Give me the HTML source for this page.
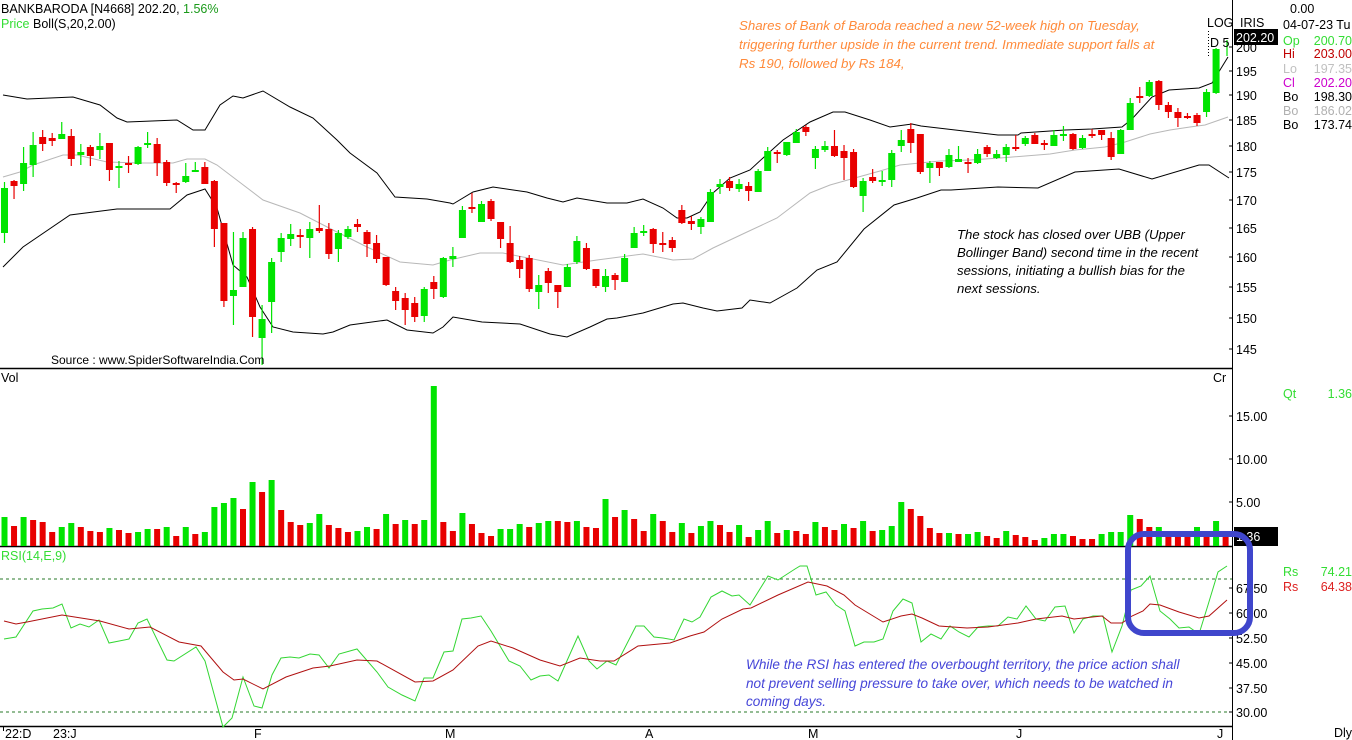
<!DOCTYPE html>
<html><head><meta charset="utf-8"><style>
html,body{margin:0;padding:0;background:#fff;}
body{width:1352px;height:740px;overflow:hidden;position:relative;font-family:"Liberation Sans",sans-serif;}
svg{position:absolute;left:0;top:0;}
</style></head><body>
<svg id="s" width="1352" height="740" xmlns="http://www.w3.org/2000/svg" font-family="Liberation Sans, sans-serif">
<g id="g"></g>
<g font-size="12.5">
<text x="1" y="13" fill="#000">BANKBARODA [N4668]  202.20,  <tspan fill="#1a9a1a">1.56%</tspan></text>
<text x="1" y="28" fill="#33dd33">Price</text><text x="33" y="28" fill="#000">Boll(S,20,2.00)</text>
<text x="51" y="364" fill="#000" font-size="12">Source : www.SpiderSoftwareIndia.Com</text>
<text x="1" y="382" fill="#000">Vol</text>
<text x="1" y="560" fill="#33dd33">RSI(14,E,9)</text>
<text x="1213" y="382" fill="#000">Cr</text>
<text x="1207" y="27" fill="#000">LOG</text>
<text x="1240" y="27" fill="#000">IRIS</text>
<text x="1290" y="13" fill="#000">0.00</text>
<text x="1283" y="29" fill="#000">04-07-23 Tu</text>
</g>
<g font-size="12.5">
<text x="1283" y="45" fill="#33dd33">Op</text><text x="1352" y="45" text-anchor="end" fill="#33dd33">200.70</text>
<text x="1283" y="58" fill="#c00000">Hi</text><text x="1352" y="58" text-anchor="end" fill="#c00000">203.00</text>
<text x="1283" y="73" fill="#c0c0c0">Lo</text><text x="1352" y="73" text-anchor="end" fill="#c0c0c0">197.35</text>
<text x="1283" y="87" fill="#cc00cc">Cl</text><text x="1352" y="87" text-anchor="end" fill="#cc00cc">202.20</text>
<text x="1283" y="101" fill="#000">Bo</text><text x="1352" y="101" text-anchor="end" fill="#000">198.30</text>
<text x="1283" y="115" fill="#b0b0b0">Bo</text><text x="1352" y="115" text-anchor="end" fill="#b0b0b0">186.02</text>
<text x="1283" y="129" fill="#000">Bo</text><text x="1352" y="129" text-anchor="end" fill="#000">173.74</text>
<text x="1283" y="398" fill="#33dd33">Qt</text><text x="1352" y="398" text-anchor="end" fill="#33dd33">1.36</text>
<text x="1283" y="576" fill="#33dd33">Rs</text><text x="1352" y="576" text-anchor="end" fill="#33dd33">74.21</text>
<text x="1283" y="591" fill="#dd2222">Rs</text><text x="1352" y="591" text-anchor="end" fill="#dd2222">64.38</text>
<text x="1334" y="737" fill="#000">Dly</text>
</g>
<g font-size="13.3" font-style="italic" fill="#ff8a3a">
<text x="739" y="30">Shares of Bank of Baroda reached a new 52-week high on Tuesday,</text>
<text x="739" y="49">triggering further upside in the current trend. Immediate support falls at</text>
<text x="739" y="68">Rs 190, followed by Rs 184,</text>
</g>
<g font-size="13.2" font-style="italic" fill="#000">
<text x="957" y="239">The stock has closed over UBB (Upper</text>
<text x="957" y="257">Bollinger Band) second time in the recent</text>
<text x="957" y="275">sessions, initiating a bullish bias for the</text>
<text x="957" y="293">next sessions.</text>
</g>
<g font-size="13.6" font-style="italic" fill="#4646d8">
<text x="746" y="669">While the RSI has entered the overbought territory, the price action shall</text>
<text x="746" y="688">not prevent selling pressure to take over, which needs to be watched in</text>
<text x="746" y="706">coming days.</text>
</g>
</svg>
<script>
var NS="http://www.w3.org/2000/svg",g=document.getElementById("g");
function el(t,a){var e=document.createElementNS(NS,t);for(var k in a)e.setAttribute(k,a[k]);g.appendChild(e);return e;}
function txt(x,y,s,a){var e=el("text",Object.assign({x:x,y:y,"font-size":12.5,fill:"#000"},a||{}));e.textContent=s;return e;}
var GC="#00e400",RC="#e80000";
function X(i){return 4.5+9.54*i;}
el("line",{x1:0,y1:368.5,x2:1232,y2:368.5,stroke:"#000","stroke-width":1.5});
el("line",{x1:0,y1:546.5,x2:1232,y2:546.5,stroke:"#000","stroke-width":1.5});
el("line",{x1:0,y1:726.5,x2:1232,y2:726.5,stroke:"#000","stroke-width":1.5});
el("line",{x1:1232.5,y1:0,x2:1232.5,y2:740,stroke:"#000","stroke-width":1});
[579,712].forEach(function(y){el("line",{x1:0,y1:y,x2:1232,y2:y,stroke:"#2a7a2a","stroke-dasharray":"3,3"});});
function pl(pts,c,w){el("polyline",{points:pts,fill:"none",stroke:c,"stroke-width":w||1});}
pl("3,95 27,99 73,97 100,105 117,118 127,122 177,120 193,130 205,130 220,105 233,96 243,98 263,91 290,107 313,118 337,140 350,153 377,173 395,197 427,199 450,203 453,204 473,192 493,187 527,192 547,198 563,202 577,198 607,203 627,203 643,199 663,208 677,218 687,218 700,212 713,193 730,178 750,170 763,158 783,140 810,122 833,112 845,112 870,120 890,127 912,124 921,126 998,135 1018,135 1021,133 1065,130 1092,129 1122,127 1132,119 1152,97 1169,90 1199,88 1212,83 1228,57","#000");
pl("3,177 20,172 33,165 63,155 77,155 107,162 140,163 173,163 187,159 205,159 217,165 263,200 300,213 333,230 367,247 400,262 433,265 450,260 480,253 503,253 563,265 597,260 643,254 673,260 693,259 713,248 747,232 777,218 810,193 830,185 862,176 880,171 900,165 920,163 940,161 970,160 1000,158 1050,154 1075,150 1105,147 1125,142 1150,134 1170,130 1190,127 1205,125 1228,117","#b8b8b8");
pl("3,267 23,247 70,215 117,209 170,209 187,195 205,189 217,208 233,265 247,277 260,307 273,327 293,332 323,334 333,332 350,325 387,320 407,330 433,333 443,327 453,317 482,322 520,324 550,334 567,337 590,327 607,319 617,318 643,313 673,304 683,303 703,308 717,311 742,308 750,300 770,303 797,288 817,270 837,262 864,229 894,205 917,198 941,190 951,190 998,187 1038,188 1075,172 1119,169 1152,179 1199,165 1209,165 1229,178","#000");
var C="G 188 233 182 243|R 181 186 180 199|G 163 184 147 191|G 145 165 132 177|R 137 144 130 151|R 138 141 133 146|G 134 139 122 139|R 136 159 129 166|G 152 155 144 165|R 147 156 145 166|G 146 150 133 159|R 143 170 143 181|G 166 167 161 188|R 163 164 156 173|G 147 164 146 165|G 143 145 132 148|R 144 163 138 176|R 162 183 160 186|R 183 184 182 193|G 176 182 163 183|G 170 171 162 172|R 167 184 162 184|R 181 229 180 247|R 223 301 223 307|G 290 296 232 325|G 238 287 232 287|R 229 317 227 337|G 319 338 305 365|G 262 302 258 333|G 238 252 233 262|G 234 239 224 246|R 235 237 229 248|G 229 238 222 258|R 228 231 205 233|R 229 254 223 259|G 233 249 230 262|G 229 237 226 239|R 224 227 219 232|R 232 244 230 257|R 243 259 235 263|R 257 285 257 286|R 291 301 287 310|R 298 310 293 325|R 303 317 297 322|G 289 316 287 322|R 282 289 276 299|G 258 297 257 298|G 256 259 247 267|G 210 238 206 238|R 207 209 193 213|G 204 222 201 222|R 201 219 199 221|R 222 239 222 248|R 243 262 226 263|R 260 269 256 278|R 258 289 255 292|G 285 292 275 309|R 271 283 268 293|R 285 292 285 308|G 267 287 264 287|G 241 262 236 264|R 248 269 243 270|R 269 286 269 288|G 276 287 269 292|R 275 280 273 290|G 258 282 254 282|G 233 248 227 248|G 231 232 225 236|R 229 244 228 253|R 243 244 232 252|R 240 248 237 252|R 210 223 205 224|R 221 224 216 230|G 219 227 217 234|G 192 222 189 222|G 184 187 179 194|R 181 188 177 191|G 184 189 179 192|R 186 191 182 201|G 171 192 169 192|G 151 171 147 171|R 152 154 150 163|G 142 155 142 156|G 132 143 129 143|R 127 132 125 136|G 149 158 146 169|G 146 150 141 152|R 146 156 130 157|R 151 158 145 180|R 152 187 149 188|G 181 196 178 212|R 177 181 169 183|G 180 181 171 186|G 153 180 150 187|G 140 146 130 152|R 129 143 123 153|R 134 172 134 174|G 163 168 161 183|R 162 168 162 176|G 155 167 149 168|G 159 162 146 162|R 162 164 158 173|G 154 163 149 164|R 147 154 145 157|G 154 158 150 159|G 147 155 144 162|R 147 149 135 151|G 138 144 136 146|R 135 144 133 144|R 143 145 140 150|G 135 146 130 146|G 134 135 126 141|R 134 149 133 150|G 138 148 135 149|R 134 135 129 138|R 130 135 130 140|R 138 157 132 160|G 130 154 129 154|G 103 130 98 130|R 96 97 87 103|G 82 96 80 97|R 81 105 80 110|R 105 112 102 118|R 112 118 108 127|R 116 118 113 119|R 115 123 113 126|G 92 112 89 117|G 49 93 48 94".split("|");
C.forEach(function(s,i){var p=s.split(" "),c=p[0]=="G"?GC:RC,bt=+p[1],bb=+p[2],wt=+p[3],wb=+p[4],x=X(i);
el("line",{x1:x,y1:wt,x2:x,y2:wb,stroke:c,"stroke-width":1.2});
el("rect",{x:x-3.5,y:bt,width:7,height:Math.max(bb-bt,2),fill:c});});
el("line",{x1:1227,y1:40,x2:1227,y2:56,stroke:GC,"stroke-width":1.2});
var V="G517 R526 G517 R520 R522 R532 G527 G523 R527 R531 R532 G528 R530 R533 G532 G529 R529 G527 R536 G527 R534 G532 G507 G503 G498 R509 G482 R492 G480 R510 R522 R525 G523 G514 R525 R528 R532 G531 G527 R529 G514 R524 G520 R524 G520 G386 R522 R531 G513 R524 R533 R536 G529 G529 G524 R527 G523 G521 R521 R522 G521 R527 R528 G499 R517 G510 R519 R531 G514 R521 R532 G523 R533 G526 G521 R525 R532 G525 R537 G530 G521 R533 G530 R531 R534 G522 R527 R530 G524 R528 G521 R531 G530 G526 G502 R509 R516 R528 R533 G533 R534 G534 G532 R536 R538 G531 R535 R537 R540 G538 G534 G534 R536 R539 R539 G534 G532 G532 G515 R519 R527 G527 R534 R534 R534 G527 R534 G521 R534".split(" ");
V.forEach(function(s,i){var c=s[0]=="G"?GC:RC,t=+s.slice(1),x=X(i);el("rect",{x:x-3,y:t,width:6,height:546-t,fill:c});});
pl("4,639 16,637 33,611 42,609 53,608 62,604 71,628 80,624 89,627 99,620 109,643 129,639 138,623 147,619 167,660 174,661 196,647 205,661 223,727 232,718 243,677 254,706 262,708 272,675 281,658 290,657 299,658 310,654 319,655 329,668 339,654 357,649 377,672 388,687 402,695 415,701 424,678 433,678 444,652 453,651 462,619 471,618 481,616 491,631 509,661 520,666 531,680 540,676 549,675 558,681 578,636 589,661 597,669 607,661 616,665 636,626 644,626 654,637 663,638 674,640 684,619 692,622 700,617 711,597 722,591 732,596 739,595 750,605 768,576 778,580 795,569 800,566 807,566 816,595 826,592 836,605 845,611 855,646 864,642 874,642 883,639 893,611 903,599 912,603 921,642 931,634 941,639 950,626 959,632 969,637 978,627 988,626 998,626 1008,617 1017,619 1026,606 1036,619 1045,621 1055,607 1065,606 1074,633 1083,619 1093,616 1103,616 1112,652 1122,626 1131,590 1141,586 1150,576 1160,611 1170,619 1179,628 1189,627 1199,634 1208,605 1218,572 1227,566","#33d633");
pl("4,621 16,624 27,622 62,615 100,621 129,629 150,627 179,642 201,646 223,672 234,680 243,679 263,689 286,677 313,668 330,666 357,660 377,661 415,682 433,681 453,670 478,646 491,641 513,648 540,660 560,666 580,658 600,661 614,661 638,646 670,643 690,636 704,632 722,619 743,609 751,608 778,595 808,582 827,586 844,595 855,605 883,622 901,616 912,614 922,618 939,626 967,628 988,627 1018,623 1036,619 1062,616 1074,619 1102,616 1111,623 1122,623 1132,616 1143,611 1150,604 1160,605 1179,612 1199,618 1209,616 1227,600","#b01010");
[[200,47],[195,71],[190,95],[185,120],[180,146],[175,172],[170,200],[165,228],[160,257],[155,287],[150,318],[145,349]].forEach(function(a){el("line",{x1:1229,y1:a[1],x2:1233,y2:a[1],stroke:"#000"});txt(1236,a[1]+5,a[0]);});
[["15.00",416],["10.00",459],["5.00",502]].forEach(function(a){el("line",{x1:1229,y1:a[1],x2:1233,y2:a[1],stroke:"#000"});txt(1236,a[1]+5,a[0]);});
[["67.50",588],["60.00",613],["52.50",638],["45.00",663],["37.50",688],["30.00",712]].forEach(function(a){el("line",{x1:1229,y1:a[1],x2:1233,y2:a[1],stroke:"#000"});txt(1236,a[1]+5,a[0]);});
[["22:D",5],["23:J",53],["F",254],["M",445],["A",645],["M",808],["J",1016],["J",1217]].forEach(function(a){txt(a[1],738,a[0]);});
el("line",{x1:3.5,y1:727,x2:3.5,y2:731,stroke:"#000"});
el("rect",{x:1234,y:29,width:44,height:16,fill:"#000"});txt(1236,42,"202.20",{fill:"#fff"});
el("rect",{x:1234,y:527,width:44,height:19,fill:"#000"});txt(1236,541,"1.36",{fill:"#fff"});
el("line",{x1:1208.5,y1:31,x2:1208.5,y2:56,stroke:"#000","stroke-dasharray":"1,2"});
txt(1210,47,"D 5");
el("rect",{x:1128,y:534,width:122,height:99,rx:16,ry:16,fill:"none",stroke:"#3f46cc","stroke-width":6});
</script>
</body></html>
